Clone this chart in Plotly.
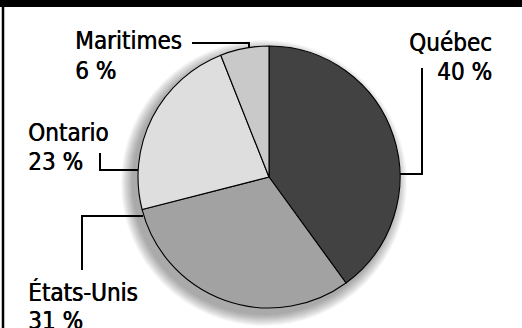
import plotly.graph_objects as go

W, H = 522, 328

regions = ["Québec", "États-Unis", "Ontario", "Maritimes"]
shares = [40, 31, 23, 6]
colors = ["#424242", "#a2a2a2", "#dedede", "#c9c9c9"]

cx, cy, r = 269, 177, 131

def px(x):
    return x / W

def py(y):
    return 1 - y / H

fig = go.Figure()
fig.add_trace(go.Pie(
    labels=regions, values=shares, sort=False, direction="clockwise", rotation=0,
    marker=dict(colors=colors, line=dict(color="#000000", width=1.1)),
    textinfo="none", hoverinfo="label+percent", showlegend=False,
    domain=dict(x=[px(cx - r), px(cx + r)], y=[py(cy + r), py(cy - r)]),
))

shapes = []
# soft drop shadow
for i in range(12):
    rr = r + 12 - i
    sx, sy = cx - 5, cy + 6
    shapes.append(dict(type="circle", xref="paper", yref="paper", layer="below",
                       x0=px(sx - rr), x1=px(sx + rr), y0=py(sy + rr), y1=py(sy - rr),
                       fillcolor="rgba(0,0,0,0.03)", line=dict(width=0)))

def seg(x0, y0, x1, y1, w=2):
    shapes.append(dict(type="line", xref="paper", yref="paper",
                       x0=px(x0), y0=py(y0), x1=px(x1), y1=py(y1),
                       line=dict(color="#000000", width=w)))

# leader lines
seg(192, 43, 250, 43); seg(249, 42, 249, 48)
seg(422, 68, 422, 174); seg(423, 174, 400, 174)
seg(100, 153, 100, 171); seg(99, 170, 138, 170)
seg(143, 216, 81, 216); seg(82, 215, 82, 270)
# frame: top band and left rule
shapes.append(dict(type="rect", xref="paper", yref="paper", x0=0, x1=1, y0=py(7), y1=1,
                   fillcolor="#000000", line=dict(width=0)))
seg(3, 0, 3, H, 2.5)

font = dict(family="DejaVu Sans Condensed", size=24, color="#000000",
            shadow="0.6px 0px 0px #000000")
label_pos = {
    "Québec": (494, 42.5, "right"),
    "États-Unis": (26, 292, "left"),
    "Ontario": (26, 132.5, "left"),
    "Maritimes": (73, 41.5, "left"),
}
annotations = []
for name, val in zip(regions, shares):
    x, y, anc = label_pos[name]
    annotations.append(dict(x=px(x), y=py(y), xref="paper", yref="paper", text=name,
                            showarrow=False, xanchor=anc, yanchor="middle", font=font))
    annotations.append(dict(x=px(x), y=py(y + 29), xref="paper", yref="paper",
                            text=f"{val}\u00a0%", showarrow=False, xanchor=anc,
                            yanchor="middle", font=font))

fig.update_layout(width=W, height=H, margin=dict(l=0, r=0, t=0, b=0),
                  paper_bgcolor="#ffffff", plot_bgcolor="#ffffff",
                  shapes=shapes, annotations=annotations)
fig.write_html("out.html")
